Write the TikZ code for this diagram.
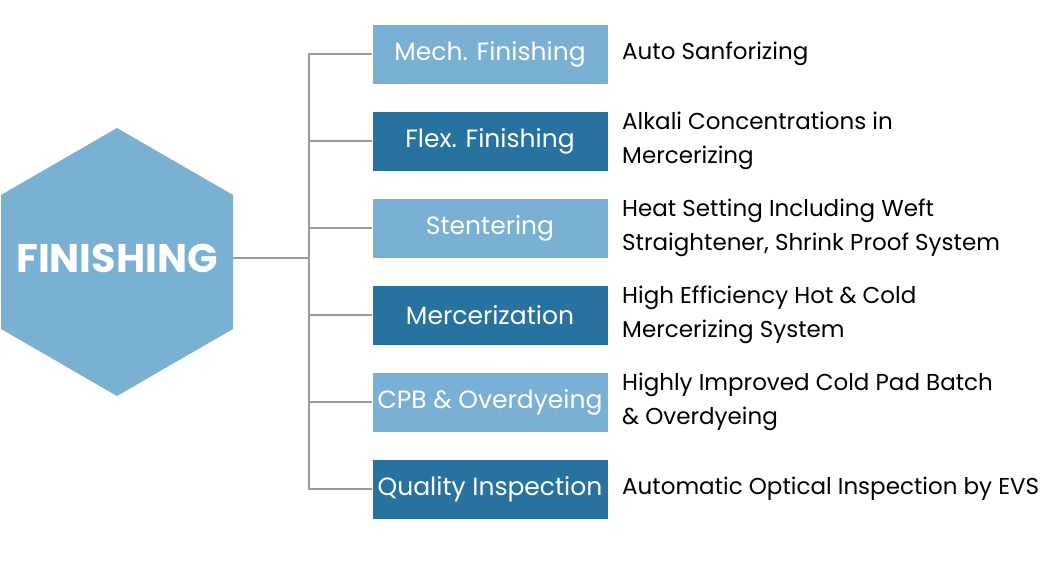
\documentclass[tikz,border=0pt]{standalone}
\usepackage{fontspec}
\setmainfont{Poppins}
\definecolor{lightb}{HTML}{7AB0D3}
\definecolor{darkb}{HTML}{2872A0}
\definecolor{hexc}{HTML}{7AB1D3}
\definecolor{linec}{HTML}{9A9A9A}
\tikzset{
  boxlight/.style={fill=lightb, text=white, minimum width=235pt, minimum height=59pt, inner sep=0pt, font=\fontsize{25}{28}\selectfont},
  boxdark/.style={boxlight, fill=darkb},
  desc/.style={anchor=west, align=left, inner sep=0pt, text=black, font=\fontsize{23}{34}\selectfont},
  conn/.style={draw=linec, line width=2pt},
}
\begin{document}
\begin{tikzpicture}[x=1pt,y=-1pt]
\useasboundingbox (0,0) rectangle (1060,560);
\fill[white] (0,0) rectangle (1060,560);
% hexagon
\fill[hexc] (117,128) -- (233,195) -- (233,329) -- (117,396) -- (1,329) -- (1,195) -- cycle;
\node[text=white, font=\bfseries\fontsize{40}{40}\selectfont, inner sep=0pt] (fin) at (117,258) {FINISHING};
\coordinate (hexr) at (233,258);
\coordinate (trunk) at (309,258);
% boxes
\node[boxlight] (b1) at (490,54) {Mech. Finishing};
\node[boxdark]  (b2) at (490,141) {Flex. Finishing};
\node[boxlight] (b3) at (490,228) {Stentering};
\node[boxdark]  (b4) at (490,315) {Mercerization};
\node[boxlight] (b5) at (490,402) {CPB \& Overdyeing};
\node[boxdark]  (b6) at (490,489) {Quality Inspection};
% descriptions
\node[desc] (d1) at (622,54) {Auto Sanforizing};
\node[desc] (d2) at (622,141) {Alkali Concentrations in\\Mercerizing};
\node[desc] (d3) at (622,228) {Heat Setting Including Weft\\Straightener, Shrink Proof System};
\node[desc] (d4) at (622,315) {High Efficiency Hot \& Cold\\Mercerizing System};
\node[desc] (d5) at (622,402) {Highly Improved Cold Pad Batch\\\& Overdyeing};
\node[desc] (d6) at (622,489) {Automatic Optical Inspection by EVS};
% connectors
\draw[conn] (hexr) -- (trunk);
\foreach \b in {b1,b2,b3,b4,b5,b6} { \draw[conn] (\b.west) -| (trunk); }
\end{tikzpicture}
\end{document}
